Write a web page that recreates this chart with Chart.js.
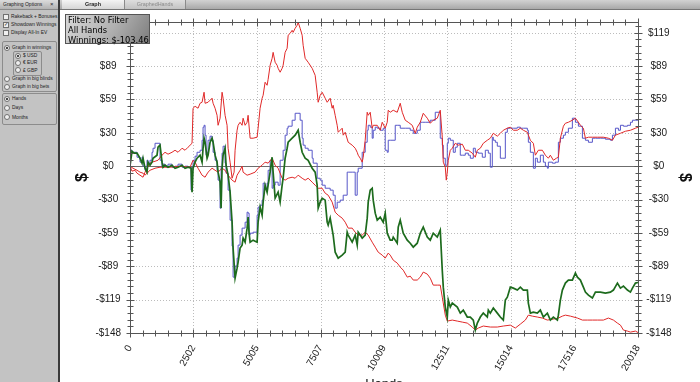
<!DOCTYPE html>
<html><head><meta charset="utf-8">
<script src="https://cdn.jsdelivr.net/npm/chart.js@4/dist/chart.umd.min.js"></script>
<style>
html,body{margin:0;padding:0;}
body{width:700px;height:382px;overflow:hidden;position:relative;background:#fff;font-family:'Liberation Sans',Arial,sans-serif;}
#c{position:absolute;left:0;top:0;}
#panel{position:absolute;left:0;top:0;width:58px;height:382px;background:#c3c3c3;border-right:2px solid #3a3a3a;}
#phdr{position:absolute;left:0;top:0;width:58px;height:9px;background:linear-gradient(#dcdcdc,#b2b2b2);border-bottom:1px solid #8a8a8a;font-size:5px;line-height:9px;color:#222;}
#phdr .t{position:absolute;left:3px;top:0;}
#phdr .x{position:absolute;left:50px;top:0;font-size:6px;}
.row{position:absolute;font-size:4.9px;color:#222;white-space:nowrap;height:7px;line-height:7px;}
.cb,.rd{display:inline-block;width:4px;height:4px;border:1px solid #707070;background:#efefef;vertical-align:top;margin-top:0.5px;margin-right:2px;position:relative;box-sizing:content-box;}
.rd{border-radius:50%;}
.rd.on::after{content:'';position:absolute;left:1px;top:1px;width:2px;height:2px;border-radius:50%;background:#111;}
.cb.on::after{content:'\2713';position:absolute;left:0;top:-2px;font-size:5px;color:#111;}
.grp{position:absolute;border:1px solid #8c8c8c;border-radius:2px;}
#tabs{position:absolute;left:60px;top:0;width:640px;height:9px;background:linear-gradient(#d2d2d2,#a8a8a8);border-bottom:1px solid #767676;}
.tab{position:absolute;top:0;height:9px;font-size:5.4px;line-height:9px;text-align:center;border-right:1px solid #8a8a8a;}
#filter{position:absolute;left:65px;top:14px;width:81px;height:28px;border:1px solid #555;background:linear-gradient(120deg,#d8d8d8 0%,#b0b0b0 55%,#7e7e7e 100%);font-family:'DejaVu Sans',Verdana,sans-serif;font-size:8.3px;line-height:10px;color:#000;padding:0 0 0 2px;}
</style></head>
<body>
<canvas id="c" width="700" height="400"></canvas>

<div id="panel">
  <div id="phdr"><span class="t">Graphing Options</span><span class="x">&#215;</span></div>
  <div class="row" style="left:3px;top:13px"><span class="cb"></span>Rakeback + Bonuses</div>
  <div class="row" style="left:3px;top:21px"><span class="cb on"></span>Showdown Winnings</div>
  <div class="row" style="left:3px;top:29px"><span class="cb"></span>Display All-In EV</div>
  <div class="grp" style="left:2px;top:41px;width:53px;height:49px"></div>
  <div class="row" style="left:4px;top:44px"><span class="rd on"></span>Graph in winnings</div>
  <div class="grp" style="left:13px;top:51px;width:27px;height:23px"></div>
  <div class="row" style="left:15px;top:52px"><span class="rd on"></span>$ USD</div>
  <div class="row" style="left:15px;top:59px"><span class="rd"></span>&#8364; EUR</div>
  <div class="row" style="left:15px;top:66.5px"><span class="rd"></span>&#163; GBP</div>
  <div class="row" style="left:4px;top:75px"><span class="rd"></span>Graph in big blinds</div>
  <div class="row" style="left:4px;top:83px"><span class="rd"></span>Graph in big bets</div>
  <div class="grp" style="left:2px;top:93px;width:53px;height:30px"></div>
  <div class="row" style="left:4px;top:95px"><span class="rd on"></span>Hands</div>
  <div class="row" style="left:4px;top:104px"><span class="rd"></span>Days</div>
  <div class="row" style="left:4px;top:113.5px"><span class="rd"></span>Months</div>
</div>

<div id="tabs">
  <div class="tab" style="left:2px;width:62px;background:linear-gradient(#f4f4f4,#d6d6d6);font-weight:bold;color:#222">Graph</div>
  <div class="tab" style="left:65px;width:60px;background:linear-gradient(#dedede,#c2c2c2);color:#8a8a8a">GraphedHands</div>
</div>

<div id="filter">Filter: No Filter<br>All Hands<br>Winnings: $-103.46</div>

<script>
// ---- tick definitions ----
const xTickValues = [0, 2502, 5005, 7507, 10009, 12511, 15014, 17516, 20018];
const xTickLabels = ['0', '2502', '5005', '7507', '10009', '12511', '15014', '17516', '20018'];
const yTickValues = [-148.4, -118.7, -89.0, -59.4, -29.7, 0, 29.7, 59.4, 89.0, 118.7];
const yTickLabels = ['-$148', '-$119', '-$89', '-$59', '-$30', '$0', '$30', '$59', '$89', '$119'];
const yMin = -148.4, yMax = 128.3;
const handsMax = 20018;

// ---- series: [hand, winnings $] ----
const totalWinnings = [[0,0],[79,13.3],[158,11.6],[276,11.6],[394,7.1],[473,2.7],[513,7.1],[592,-1.8],[670,-5.3],[710,3.6],[789,0.9],[868,3.6],[907,7.1],[1065,9.8],[1104,16.9],[1183,18.7],[1262,3.6],[1302,-0.9],[1380,0.9],[1499,-0.9],[1656,0.9],[1775,-1.8],[1893,-0.9],[2051,0.9],[2169,-1.8],[2288,-0.9],[2406,-1.8],[2445,-23.1],[2485,-1.8],[2564,3.6],[2642,7.1],[2761,9.8],[2840,3.6],[2879,16.0],[2919,24.9],[2958,21.3],[3037,7.1],[3076,9.8],[3155,21.3],[3234,24.9],[3274,21.3],[3352,9.8],[3431,3.6],[3471,-5.3],[3550,-14.2],[3589,-37.3],[3628,-1.8],[3668,9.8],[3747,16.0],[3786,0.9],[3865,-8.0],[3944,-23.1],[4023,-49.8],[4062,-72.9],[4141,-99.6],[4220,-90.7],[4260,-85.3],[4338,-72.9],[4417,-70.2],[4457,-64.0],[4536,-67.6],[4614,-55.1],[4654,-45.3],[4693,-59.6],[4733,-67.6],[4851,-65.8],[5009,-67.6],[5048,-49.8],[5127,-36.4],[5206,-43.6],[5246,-32.0],[5324,-16.9],[5403,-23.1],[5443,-16.9],[5522,-5.3],[5600,8.0],[5640,-5.3],[5719,-28.4],[5837,-23.1],[5916,-32.0],[5995,-16.9],[6034,-10.7],[6113,7.1],[6192,16.0],[6232,21.3],[6389,24.9],[6508,27.6],[6626,32.0],[6705,21.3],[6784,12.4],[6902,7.1],[7020,5.3],[7178,-1.8],[7296,-5.3],[7375,-16.9],[7415,-37.3],[7494,-32.0],[7572,-28.4],[7691,-30.2],[7770,-49.8],[7809,-52.4],[7888,-46.2],[8006,-61.3],[8085,-76.5],[8204,-81.8],[8361,-79.1],[8480,-76.5],[8558,-58.7],[8598,-61.3],[8756,-67.6],[8874,-61.3],[8953,-70.2],[8992,-58.7],[9071,-61.3],[9150,-64.0],[9268,-61.3],[9347,-46.2],[9387,-32.0],[9466,-21.3],[9544,-19.6],[9584,-30.2],[9663,-41.8],[9742,-48.0],[9860,-45.3],[9978,-49.8],[10057,-41.8],[10136,-59.6],[10254,-65.8],[10333,-65.8],[10373,-63.1],[10530,-68.5],[10570,-54.2],[10649,-48.0],[10767,-59.6],[10925,-65.8],[11043,-68.5],[11162,-72.0],[11319,-68.5],[11438,-59.6],[11556,-54.2],[11714,-63.1],[11832,-65.8],[11950,-59.6],[12108,-63.1],[12226,-56.9],[12305,-92.5],[12345,-107.6],[12424,-125.3],[12503,-134.2],[12542,-119.1],[12621,-125.3],[12700,-121.8],[12897,-125.3],[13015,-130.7],[13134,-128.0],[13291,-134.2],[13410,-134.2],[13528,-136.9],[13607,-145.8],[13686,-139.6],[13804,-134.2],[13922,-130.7],[14080,-134.2],[14120,-128.0],[14198,-130.7],[14317,-126.2],[14474,-130.7],[14593,-134.2],[14711,-136.9],[14790,-119.1],[14869,-116.5],[14987,-107.6],[15106,-108.5],[15263,-110.2],[15382,-107.6],[15500,-110.2],[15658,-110.2],[15697,-121.8],[15776,-130.7],[15894,-129.8],[16052,-130.7],[16170,-128.0],[16289,-134.2],[16446,-130.7],[16565,-136.9],[16683,-134.2],[16841,-136.9],[16880,-132.5],[16959,-119.1],[17038,-110.2],[17156,-104.0],[17275,-101.3],[17432,-101.3],[17551,-95.1],[17630,-98.7],[17748,-101.3],[17866,-107.6],[17945,-112.0],[18064,-114.7],[18221,-117.3],[18340,-112.0],[18537,-112.0],[18734,-112.9],[18931,-112.0],[19049,-110.2],[19207,-104.0],[19326,-108.5],[19444,-106.7],[19602,-110.2],[19720,-112.0],[19799,-108.5],[19917,-104.0],[20018,-103.46]];

const showdownWinnings = [[0,0],[79,14.2],[158,12.4],[276,12.4],[394,8.0],[473,3.6],[513,8.0],[592,0],[670,-3.6],[710,5.3],[789,2.7],[868,5.3],[907,12.4],[986,16.0],[1104,20.4],[1183,20.4],[1262,5.3],[1302,0],[1380,1.8],[1499,0],[1656,1.8],[1775,-0.9],[1893,0],[2051,1.8],[2169,-0.9],[2288,0],[2406,-0.9],[2445,-21.3],[2485,-0.9],[2564,5.3],[2642,8.9],[2761,12.4],[2840,14.2],[2879,23.1],[2919,34.7],[2958,36.4],[2997,27.6],[3037,9.8],[3076,12.4],[3155,23.1],[3234,26.7],[3274,23.1],[3352,12.4],[3431,5.3],[3471,-3.6],[3550,-12.4],[3589,-37.3],[3628,-0.9],[3668,11.6],[3747,17.8],[3786,2.7],[3865,-6.2],[3944,-21.3],[4023,-48.0],[4062,-71.1],[4141,-98.7],[4220,-88.9],[4260,-81.8],[4338,-70.2],[4417,-61.3],[4536,-55.1],[4614,-49.8],[4654,-40.9],[4693,-41.8],[4733,-61.3],[4851,-59.6],[5009,-58.7],[5048,-43.6],[5127,-36.4],[5206,-34.7],[5246,-30.2],[5324,-15.1],[5403,-19.6],[5443,-15.1],[5522,-3.6],[5600,5.3],[5640,-19.6],[5719,-16.9],[5837,-14.2],[5916,-16.9],[6034,5.3],[6113,14.2],[6192,27.6],[6232,33.8],[6389,35.6],[6508,40.9],[6586,47.1],[6705,47.1],[6784,40.9],[6823,24.9],[6902,18.7],[7020,16.0],[7178,14.2],[7218,7.1],[7375,2.7],[7494,-10.7],[7572,-12.4],[7691,-16.9],[7888,-19.6],[8006,-21.3],[8085,-25.8],[8164,-37.3],[8282,-32.0],[8401,-30.2],[8558,-25.8],[8598,-5.3],[8756,-5.3],[8874,-5.3],[8953,-25.8],[8992,-5.3],[9150,-1.8],[9268,12.4],[9347,21.3],[9387,32.0],[9466,36.4],[9544,34.7],[9584,24.9],[9663,32.0],[9742,34.7],[9860,33.8],[9978,32.0],[10057,33.8],[10136,14.2],[10176,12.4],[10254,23.1],[10452,23.1],[10530,36.4],[10649,36.4],[10846,33.8],[11043,33.8],[11162,32.0],[11319,29.3],[11438,32.0],[11516,39.1],[11635,39.1],[11832,39.1],[12029,40.9],[12226,48.0],[12305,24.9],[12345,18.7],[12424,7.1],[12503,0.9],[12542,20.4],[12621,24.9],[12739,23.1],[12818,12.4],[12897,16.9],[13015,20.4],[13094,9.8],[13212,9.8],[13331,11.6],[13410,9.8],[13528,7.1],[13607,16.0],[13725,12.4],[13883,11.6],[14001,8.0],[14120,14.2],[14198,11.6],[14277,-0.9],[14317,25.8],[14396,23.1],[14474,21.3],[14593,17.8],[14672,7.1],[14790,7.1],[14869,30.2],[14987,33.8],[15106,33.8],[15263,33.8],[15382,34.7],[15500,33.8],[15658,33.8],[15697,32.0],[15776,21.3],[15894,12.4],[15973,-1.8],[16052,7.1],[16170,3.6],[16289,9.8],[16368,3.6],[16446,0],[16486,-1.8],[16644,3.6],[16762,2.7],[16880,3.6],[16959,21.3],[17078,24.9],[17156,27.6],[17275,30.2],[17432,33.8],[17551,42.7],[17669,39.1],[17827,35.6],[17945,24.9],[18064,23.1],[18221,21.3],[18340,24.9],[18537,24.9],[18734,24.9],[18931,24.0],[19010,23.1],[19128,27.6],[19247,33.8],[19326,32.0],[19444,36.4],[19602,35.6],[19720,36.4],[19799,39.1],[19917,40.9],[20018,40.9]];

const upperRed = [[0,0],[79,-4.4],[197,-3.6],[276,-6.2],[394,-8.0],[513,-9.8],[592,-5.3],[670,-1.8],[789,2.7],[868,3.6],[986,4.4],[1104,5.3],[1262,9.8],[1380,12.4],[1499,10.7],[1656,12.4],[1775,14.2],[1893,12.4],[2051,16.0],[2169,14.2],[2288,16.9],[2445,20.4],[2485,51.6],[2564,53.3],[2682,51.6],[2761,56.0],[2840,56.9],[2919,65.8],[2958,56.0],[3076,56.9],[3234,60.5],[3274,56.0],[3352,51.6],[3431,45.3],[3471,36.4],[3550,42.7],[3628,65.8],[3668,60.5],[3747,45.3],[3826,36.4],[3865,16.0],[3944,3.6],[4023,-10.7],[4102,-5.3],[4141,14.2],[4220,32.0],[4260,36.4],[4338,39.1],[4417,36.4],[4457,42.7],[4536,36.4],[4614,39.1],[4654,45.3],[4733,24.9],[4851,24.9],[5009,25.8],[5048,33.8],[5127,51.6],[5206,60.5],[5246,63.1],[5324,74.7],[5403,72.0],[5443,77.3],[5522,89.8],[5600,96.0],[5640,101.3],[5719,92.5],[5798,89.8],[5837,87.1],[5916,83.6],[5995,87.1],[6034,89.8],[6113,101.3],[6192,104.9],[6232,116.5],[6310,118.2],[6389,120.9],[6429,119.1],[6508,122.7],[6586,125.4],[6626,128.0],[6705,122.7],[6784,116.5],[6823,107.6],[6902,96.0],[7020,92.5],[7178,87.1],[7296,80.9],[7375,65.8],[7415,56.9],[7494,63.1],[7572,65.8],[7691,60.5],[7770,56.9],[7888,60.5],[7967,51.6],[8006,54.2],[8085,45.3],[8164,36.4],[8204,30.2],[8361,33.8],[8401,27.6],[8480,30.2],[8598,21.3],[8756,18.7],[8874,16.0],[8953,12.4],[8992,9.8],[9071,7.1],[9150,3.6],[9190,8.0],[9268,23.1],[9347,48.0],[9387,45.3],[9466,48.0],[9544,33.8],[9584,36.4],[9742,36.4],[9860,32.0],[9939,39.1],[10057,33.8],[10136,39.1],[10176,49.8],[10254,48.0],[10373,49.8],[10530,48.0],[10649,56.0],[10728,48.0],[10846,40.9],[10964,39.1],[11122,36.4],[11240,29.3],[11319,34.7],[11438,39.1],[11556,47.1],[11714,42.7],[11832,38.2],[11950,40.9],[12108,42.7],[12226,49.8],[12305,25.8],[12345,3.6],[12424,-0.9],[12463,-12.4],[12503,-5.3],[12542,5.3],[12621,14.2],[12700,16.0],[12818,20.4],[12936,18.7],[13094,19.6],[13212,14.2],[13331,14.2],[13488,11.6],[13607,8.0],[13686,14.2],[13804,16.0],[13922,20.4],[14080,23.1],[14198,24.9],[14317,29.3],[14474,26.7],[14593,29.3],[14711,32.0],[14869,33.8],[14987,34.7],[15106,32.0],[15263,32.0],[15382,33.8],[15500,32.0],[15658,30.2],[15776,23.1],[15894,20.4],[15973,9.8],[16092,14.2],[16249,14.2],[16368,9.8],[16486,7.1],[16565,9.8],[16683,5.3],[16801,7.1],[16880,8.0],[16959,24.9],[17078,35.6],[17156,38.2],[17275,39.1],[17432,40.9],[17551,42.7],[17669,39.1],[17748,36.4],[17866,33.8],[17945,24.9],[18064,25.8],[18221,25.8],[18418,25.8],[18655,25.8],[18852,24.9],[19010,23.1],[19128,27.6],[19326,29.3],[19523,31.1],[19720,32.0],[19917,33.8],[20018,34.7]];

const nonShowdownWinnings = [[0,0],[118,-1.8],[276,-3.6],[394,-5.3],[513,-6.2],[592,-8.0],[710,-5.3],[789,-3.6],[986,-1.8],[1183,-0.9],[1578,-0.9],[1972,0],[2366,-0.9],[2485,5.3],[2564,3.6],[2682,-1.8],[2840,-8.0],[2958,-9.8],[3076,-5.3],[3234,-1.8],[3352,-3.6],[3471,-5.3],[3628,-1.8],[3747,-3.6],[3865,-8.0],[4023,-12.4],[4141,-14.2],[4220,-8.0],[4338,-3.6],[4417,0],[4457,-5.3],[4614,-8.0],[4733,-7.1],[4930,-5.3],[5048,-1.8],[5206,0.9],[5324,3.6],[5443,2.7],[5600,7.1],[5719,0.9],[5837,-1.8],[5995,-10.7],[6113,-12.4],[6232,-10.7],[6389,-9.8],[6508,-10.7],[6626,-8.0],[6784,-10.7],[6902,-12.4],[7020,-10.7],[7178,-14.2],[7296,-16.9],[7415,-19.6],[7572,-19.6],[7691,-24.0],[7809,-25.8],[7967,-32.0],[8085,-40.9],[8204,-43.6],[8361,-46.2],[8480,-49.8],[8598,-55.1],[8756,-55.1],[8874,-58.7],[8992,-61.3],[9150,-61.3],[9268,-58.7],[9387,-61.3],[9544,-67.6],[9663,-72.0],[9781,-76.5],[9939,-79.1],[10057,-81.8],[10176,-77.3],[10254,-79.1],[10373,-83.6],[10530,-86.2],[10649,-89.8],[10767,-92.5],[10925,-98.7],[11043,-97.8],[11162,-101.3],[11319,-101.3],[11438,-98.7],[11556,-94.2],[11714,-96.0],[11832,-99.6],[11950,-105.8],[12108,-105.8],[12226,-105.8],[12305,-116.5],[12424,-132.5],[12503,-137.8],[12700,-136.9],[12897,-137.8],[13094,-138.7],[13291,-139.6],[13488,-143.1],[13607,-145.8],[13725,-144.0],[13922,-142.2],[14198,-143.1],[14474,-143.1],[14711,-142.2],[14987,-141.4],[15184,-144.0],[15382,-140.5],[15579,-136.9],[15697,-132.5],[15855,-133.4],[16052,-134.2],[16249,-135.1],[16446,-136.9],[16683,-136.0],[16880,-135.1],[17038,-133.4],[17156,-132.5],[17354,-133.4],[17630,-135.1],[17827,-136.9],[18024,-136.9],[18221,-136.9],[18418,-136.9],[18655,-136.9],[18852,-135.1],[19049,-136.9],[19207,-139.6],[19326,-141.4],[19444,-145.8],[19602,-146.7],[19720,-147.6],[19917,-146.7],[20018,-148.0]];

const toPts = arr => arr.map(([h, v]) => ({x: h, y: v}));

const TICK_FONT = "'Liberation Sans',Arial,sans-serif";

function minorValues(major, max) {
  const out = [];
  for (let i = 0; i < major.length - 1; i++) {
    const st = (major[i + 1] - major[i]) / 5;
    for (let k = 1; k < 5; k++) out.push(major[i] + st * k);
  }
  if (max !== undefined) {
    const st = (major[major.length - 1] - major[major.length - 2]) / 5;
    for (let v = major[major.length - 1] + st; v <= max + 0.01; v += st) out.push(v);
  }
  return out;
}

const axisFrame = {
  id: 'axisFrame',
  beforeDatasetsDraw(chart) {
    const {ctx, chartArea: a, scales: {x, y}} = chart;
    ctx.save();
    ctx.lineWidth = 1;
    ctx.strokeStyle = '#bcbcbc';
    ctx.setLineDash([1, 2]);
    ctx.beginPath();
    xTickValues.forEach(v => {
      const px = Math.round(x.getPixelForValue(v)) + 0.5;
      if (px > a.left + 2 && px < a.right - 2) { ctx.moveTo(px, a.top); ctx.lineTo(px, a.bottom); }
    });
    yTickValues.forEach(v => {
      if (v === 0) return;
      const py = Math.round(y.getPixelForValue(v)) + 0.5;
      if (py > a.top + 2 && py < a.bottom - 2) { ctx.moveTo(a.left, py); ctx.lineTo(a.right, py); }
    });
    ctx.stroke();
    ctx.setLineDash([]);
    ctx.strokeStyle = '#6c6c6c';
    const z = Math.round(y.getPixelForValue(0)) + 0.5;
    ctx.beginPath(); ctx.moveTo(a.left, z); ctx.lineTo(a.right, z); ctx.stroke();
    ctx.restore();
  },
  afterDatasetsDraw(chart) {
    const {ctx, chartArea: a, scales: {x, y}} = chart;
    const L = Math.round(a.left) + 0.5, R = Math.round(a.right) + 0.5;
    const T = Math.round(a.top) + 0.5, B = Math.round(a.bottom) + 0.5;
    ctx.save();
    ctx.strokeStyle = '#555';
    ctx.lineWidth = 1;
    ctx.beginPath();
    ctx.moveTo(L, T); ctx.lineTo(L, B); ctx.lineTo(R, B); ctx.lineTo(R, T); ctx.lineTo(L, T);
    const xMin = minorValues(xTickValues);
    const yMinr = minorValues(yTickValues, yMax);
    const hx = (v, h) => { const p = Math.round(x.getPixelForValue(v)) + 0.5;
      ctx.moveTo(p, B - h); ctx.lineTo(p, B + h); ctx.moveTo(p, T - h); ctx.lineTo(p, T + h); };
    const hy = (v, h) => { const p = Math.round(y.getPixelForValue(v)) + 0.5;
      ctx.moveTo(L - h, p); ctx.lineTo(L + h, p); ctx.moveTo(R - h, p); ctx.lineTo(R + h, p); };
    xTickValues.forEach(v => hx(v, 4)); xMin.forEach(v => hx(v, 3));
    yTickValues.forEach(v => hy(v, 4)); yMinr.forEach(v => hy(v, 3));
    ctx.stroke();
    ctx.restore();
  }
};

const yAxisCommon = (pos) => ({
  type: 'linear', position: pos, min: yMin, max: yMax,
  afterBuildTicks: s => { s.ticks = yTickValues.map(v => ({value: v})); },
  ticks: {
    crossAlign: 'center', padding: pos === 'left' ? 9 : 8, color: '#1a1a1a',
    font: {family: TICK_FONT, size: 10},
    callback: (v, i) => yTickLabels[i]
  },
  grid: {display: false, drawTicks: false},
  border: {display: false},
  title: {display: true, text: '$', color: '#111',
    font: {family: "'Liberation Sans',Arial,sans-serif", size: 16, weight: 'bold'},
    padding: pos === 'left' ? {top: 73, bottom: 0} : {top: 6, bottom: 0}}
});

new Chart(document.getElementById('c'), {
  type: 'line',
  data: {
    datasets: [
      {label: 'Winnings', data: toPts(totalWinnings), borderColor: '#1d6b1d', borderWidth: 1.7, order: 0},
      {label: 'Red A', data: toPts(upperRed), borderColor: '#e02828', borderWidth: 1, order: 1},
      {label: 'Red B', data: toPts(nonShowdownWinnings), borderColor: '#e02828', borderWidth: 1, order: 2},
      {label: 'Showdown', data: toPts(showdownWinnings), borderColor: '#5656c8', borderWidth: 1, stepped: 'after', order: 3}
    ]
  },
  options: {
    responsive: false, animation: false, devicePixelRatio: 1,
    layout: {padding: {top: 22, left: 0, right: 0, bottom: 0}},
    elements: {point: {radius: 0}, line: {tension: 0}},
    plugins: {legend: {display: false}, tooltip: {enabled: false}},
    scales: {
      x: {
        type: 'linear', position: 'bottom', min: 0, max: handsMax,
        afterBuildTicks: s => { s.ticks = xTickValues.map(v => ({value: v})); },
        afterFit: s => { s.height = 67; },
        ticks: {autoSkip: false, minRotation: 60, maxRotation: 60, padding: 10, color: '#1a1a1a',
          font: {family: TICK_FONT, size: 10},
          callback: (v, i) => xTickLabels[i]},
        grid: {display: false, drawTicks: false},
        border: {display: false},
        title: {display: true, text: 'Hands', color: '#111',
          font: {family: "'Liberation Sans',Arial,sans-serif", size: 13},
          padding: {top: 0, bottom: 8}}
      },
      y: Object.assign(yAxisCommon('left'), {afterFit: s => { s.width = 130; }}),
      y2: Object.assign(yAxisCommon('right'), {afterFit: s => { s.width = 62; }})
    }
  },
  plugins: [axisFrame]
});
</script>
</body></html>
